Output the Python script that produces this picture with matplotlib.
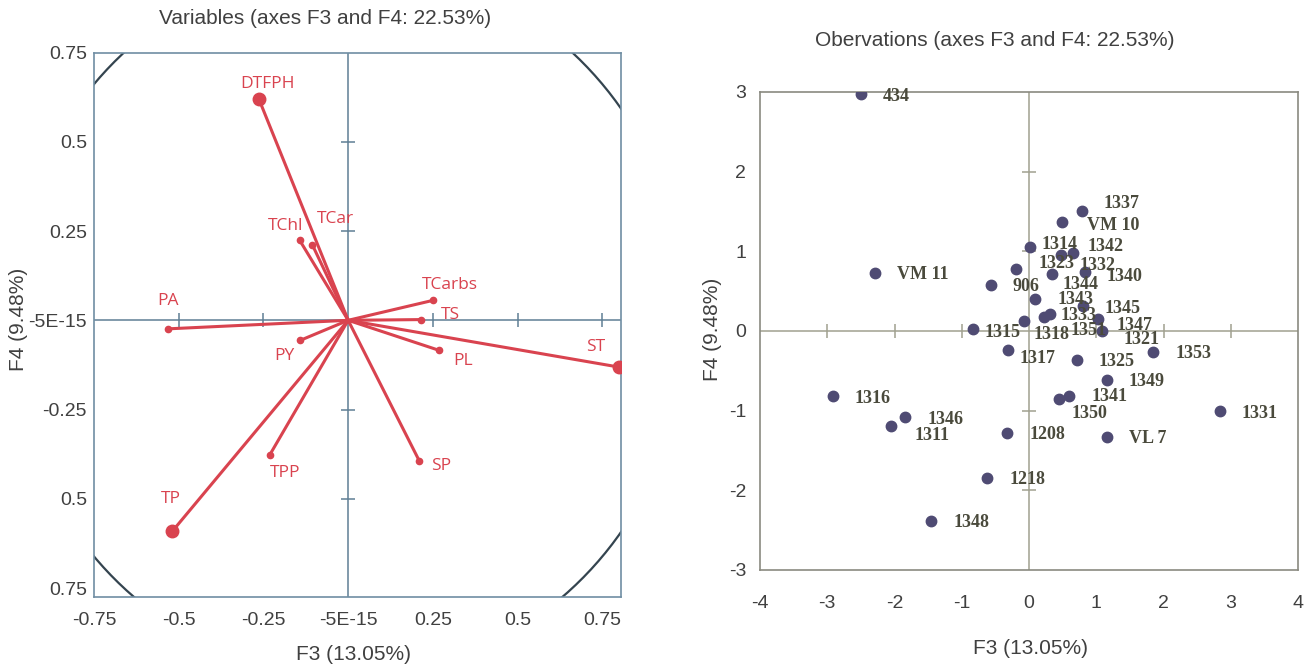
import numpy as np
import matplotlib
matplotlib.use('Agg')
import matplotlib.pyplot as plt

plt.rcParams['font.family'] = ['Liberation Sans', 'DejaVu Sans']
plt.rcParams['axes.unicode_minus'] = False

# Variables (correlation circle, F3 / F4)
var_names = ['DTFPH', 'TChl', 'TCar', 'TCarbs', 'TS', 'ST', 'PL', 'SP', 'TPP', 'TP', 'PY', 'PA']
var_f3 = [-0.264, -0.143, -0.106, 0.251, 0.214, 0.799, 0.268, 0.210, -0.232, -0.519, -0.141, -0.533]
var_f4 = [0.621, 0.224, 0.212, 0.056, 0.002, -0.131, -0.084, -0.394, -0.378, -0.591, -0.056, -0.024]
var_big = ['DTFPH', 'ST', 'TP']

# Observations (F3 / F4)
obs_names = ['434', 'VM 11', '906', '1337', 'VM 10', '1314', '1323', '1332', '1342', '1340',
             '1344', '1343', '1345', '1333', '1318', '1347', '1351', '1321', '1315', '1317',
             '1325', '1353', '1349', '1341', '1350', '1331', 'VL 7', '1316', '1346', '1311',
             '1208', '1218', '1348']
obs_f3 = [-2.50, -2.29, -0.57, 0.79, 0.49, 0.01, -0.19, 0.47, 0.66, 0.84,
          0.34, 0.09, 0.80, 0.31, -0.07, 1.03, 0.23, 1.08, -0.83, -0.31,
          0.71, 1.85, 1.16, 0.60, 0.44, 2.84, 1.16, -2.92, -1.84, -2.05,
          -0.32, -0.62, -1.45]
obs_f4 = [2.97, 0.73, 0.58, 1.51, 1.37, 1.06, 0.78, 0.95, 0.98, 0.74,
          0.71, 0.40, 0.31, 0.21, 0.13, 0.15, 0.17, 0.00, 0.02, -0.24,
          -0.36, -0.26, -0.61, -0.82, -0.85, -1.01, -1.33, -0.82, -1.08, -1.19,
          -1.28, -1.84, -2.38]

# label offsets (pixels) for the variables plot
var_off = {'DTFPH': (9, 15), 'TChl': (-14, 14), 'TCar': (23, 26), 'TCarbs': (17, 15),
           'TS': (30, 5), 'ST': (-23, 20), 'PL': (24, -11), 'SP': (22, -5),
           'TPP': (16, -18), 'TP': (-1, 32), 'PY': (-16, -16), 'PA': (0, 28)}
# label offsets (pixels) for the observations plot
obs_off = {'1314': (12, 2), '1323': (22, 5), '1332': (19, -10), '1342': (14, 6),
           '1337': (21, 7), 'VM 10': (25, -4), '1340': (21, -4), '1344': (11, -10),
           '1333': (11, -1), '1318': (9, -14), '1347': (18, -6), '1351': (26, -13),
           '1321': (22, -9), '1315': (11, -3), '1317': (11, -8), '1350': (13, -15),
           '1311': (23, -10), '1341': (22, 0), '1343': (22, 0)}

red = '#d9434f'
txt = '#404040'

fig = plt.figure(figsize=(13.09, 6.69), dpi=100)

# ---------------- left: variables ----------------
ax1 = fig.add_axes([0.0718, 0.1076, 0.4026, 0.8139])
ax1.set_xlim(-0.75, 0.805)
ax1.set_ylim(-0.775, 0.75)
for s in ax1.spines.values():
    s.set_color('#6f8ea3')
    s.set_linewidth(1.2)
ax1.axhline(0, color='#5f7f95', lw=1.1, zorder=1)
ax1.axvline(0, color='#5f7f95', lw=1.1, zorder=1)
tk = [-0.5, -0.25, 0.25, 0.5, 0.75]
ax1.plot(tk, np.zeros(len(tk)), ls='none', marker='|', ms=10, mew=1.1, color='#5f7f95', zorder=1)
tk = [-0.5, -0.25, 0.25, 0.5]
ax1.plot(np.zeros(len(tk)), tk, ls='none', marker='_', ms=10, mew=1.1, color='#5f7f95', zorder=1)

t = np.linspace(0, 2 * np.pi, 400)
ax1.plot(np.cos(t), np.sin(t), color='#34444f', lw=1.6, zorder=2)

for n, x, y in zip(var_names, var_f3, var_f4):
    ax1.plot([0, x], [0, y], color=red, lw=2.2, zorder=3, solid_capstyle='round')
    ms = 9 if n in var_big else 4.5
    ax1.plot(x, y, 'o', color=red, ms=ms, zorder=4)
    ax1.annotate(n, (x, y), xytext=var_off[n], textcoords='offset pixels',
                 ha='center', va='center', color=red, fontsize=12.5,
                 family='Open Sans', zorder=5)

ax1.set_xticks([-0.75, -0.5, -0.25, 0, 0.25, 0.5, 0.75])
ax1.set_xticklabels(['-0.75', '-0.5', '-0.25', '-5E-15', '0.25', '0.5', '0.75'])
ax1.set_yticks([0.75, 0.5, 0.25, 0, -0.25, -0.5, -0.75])
ax1.set_yticklabels(['0.75', '0.5', '0.25', '-5E-15', '-0.25', '0.5', '0.75'])
ax1.tick_params(length=0, labelsize=14, colors=txt)
ax1.tick_params(axis='x', pad=11)
ax1.tick_params(axis='y', pad=5)
fig.text(0.248, 0.973, 'Variables (axes F3 and F4: 22.53%)', ha='center', va='center',
         fontsize=15, color=txt)
fig.text(0.27, 0.021, 'F3 (13.05%)', ha='center', va='center', fontsize=15, color=txt)
fig.text(0.014, 0.522, 'F4 (9.48%)', ha='center', va='center', rotation=90,
         fontsize=15, color=txt)

# ---------------- right: observations ----------------
ax2 = fig.add_axes([0.5806, 0.148, 0.411, 0.7145])
ax2.set_xlim(-4, 4)
ax2.set_ylim(-3, 3)
for s in ax2.spines.values():
    s.set_color('#8a8a80')
    s.set_linewidth(1.2)
ax2.axhline(0, color='#a0a090', lw=1.1, zorder=1)
ax2.axvline(0, color='#a0a090', lw=1.1, zorder=1)
tk = [-3, -2, -1, 1, 2, 3]
ax2.plot(tk, np.zeros(len(tk)), ls='none', marker='|', ms=10, mew=1.1, color='#a0a090', zorder=1)
tk = [-2, -1, 1, 2]
ax2.plot(np.zeros(len(tk)), tk, ls='none', marker='_', ms=10, mew=1.1, color='#a0a090', zorder=1)

ax2.plot(obs_f3, obs_f4, 'o', color='#4f4b73', ms=7.5, zorder=3)
for n, x, y in zip(obs_names, obs_f3, obs_f4):
    ax2.annotate(n, (x, y), xytext=obs_off.get(n, (22, -2)), textcoords='offset pixels',
                 ha='left', va='center', color='#4a4a3c', fontsize=13,
                 family='Liberation Serif', weight='bold', zorder=4)

ax2.set_xticks(range(-4, 5))
ax2.set_yticks(range(-3, 4))
ax2.tick_params(length=0, labelsize=14, colors=txt)
ax2.tick_params(axis='x', pad=18)
ax2.tick_params(axis='y', pad=10)
fig.text(0.76, 0.940, 'Obervations (axes F3 and F4: 22.53%)', ha='center', va='center',
         fontsize=15, color=txt)
fig.text(0.787, 0.031, 'F3 (13.05%)', ha='center', va='center', fontsize=15, color=txt)
fig.text(0.544, 0.507, 'F4 (9.48%)', ha='center', va='center', rotation=90,
         fontsize=15, color=txt)

fig.savefig('out.png', dpi=100, facecolor='white')
